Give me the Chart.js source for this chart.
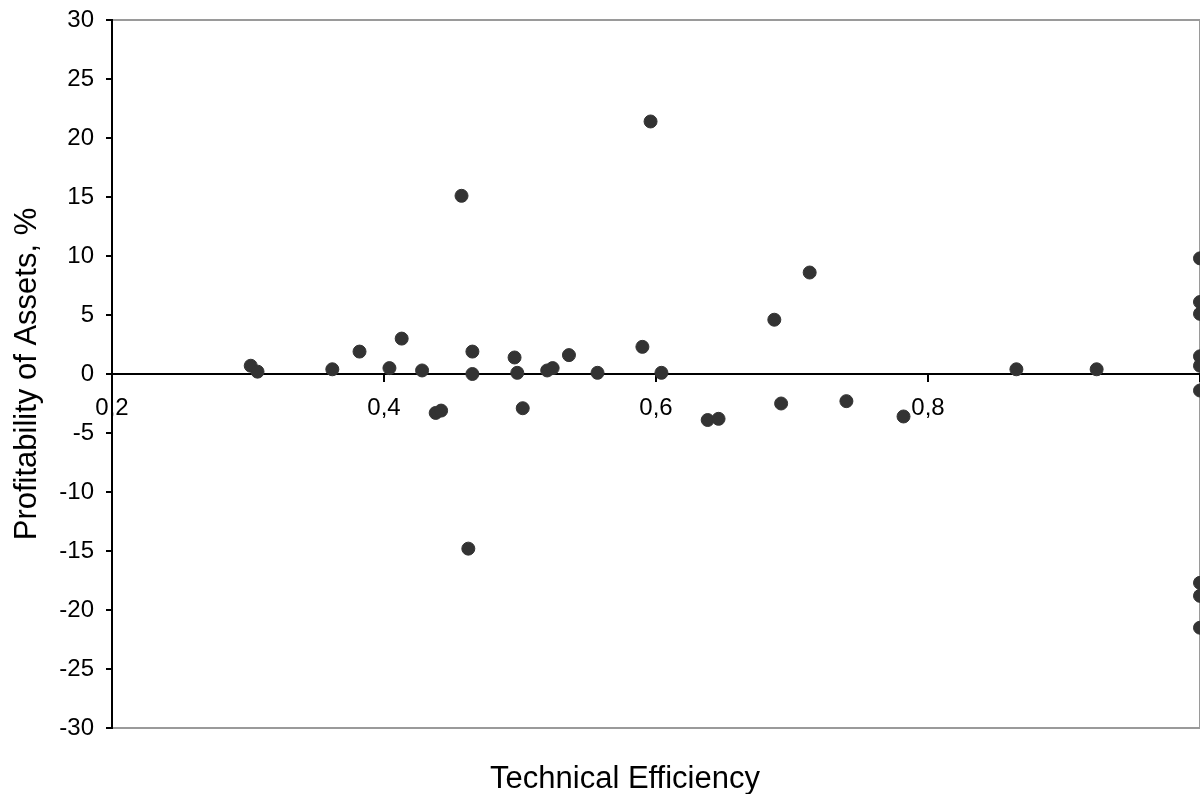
<!DOCTYPE html>
<html>
<head>
<meta charset="utf-8">
<script src="https://cdn.jsdelivr.net/npm/chart.js@4/dist/chart.umd.min.js"></script>
<style>
    html, body { margin: 0; padding: 0; background: #fff; }
</style>
</head>
<body>
<canvas id="chart" width="1200" height="794"></canvas>
<script>
        // technical efficiency (x) and profitability of assets in % (y)
        const efficiency = [0.302, 0.307, 0.362, 0.382, 0.404, 0.413, 0.428, 0.438, 0.442, 0.457,
            0.462, 0.465, 0.465, 0.496, 0.498, 0.502, 0.520, 0.524, 0.536, 0.557,
            0.590, 0.596, 0.604, 0.638, 0.646, 0.687, 0.692, 0.713, 0.740, 0.782,
            0.865, 0.924, 1, 1, 1, 1, 1, 1, 1, 1, 1];
        const profitability = [0.7, 0.2, 0.4, 1.9, 0.5, 3.0, 0.3, -3.3, -3.1, 15.1,
            -14.8, 1.9, 0.0, 1.4, 0.1, -2.9, 0.3, 0.5, 1.6, 0.1,
            2.3, 21.4, 0.1, -3.9, -3.8, 4.6, -2.5, 8.6, -2.3, -3.6,
            0.4, 0.4, 9.8, 6.1, 5.1, 1.5, 0.7, -1.4, -17.7, -18.8, -21.5];

        const xMin = 0.2, xMax = 1.0, xStep = 0.2;
        const yMin = -30, yMax = 30, yStep = 5;
        const xTitle = 'Technical Efficiency';
        const yTitle = 'Profitability of Assets, %';

        const tickFont = { family: "'Liberation Sans Narrow', 'Liberation Sans', Arial, sans-serif", size: 24 };
        const titleFamily = "'Liberation Sans', Arial, sans-serif";

        // grey frame round the plot area, drawn before the black axes
        const framePlugin = {
            id: 'frame',
            beforeDraw(chart) {
                const { ctx, chartArea: a } = chart;
                ctx.save();
                ctx.strokeStyle = '#9a9a9a';
                ctx.lineWidth = 2;
                ctx.strokeRect(a.left, a.top, a.right - a.left, a.bottom - a.top);
                ctx.restore();
            }
        };

        // x axis title sits under the plot, not under the zero line
        const xTitlePlugin = {
            id: 'xTitle',
            afterDraw(chart) {
                const ctx = chart.ctx;
                ctx.save();
                ctx.fillStyle = '#000';
                ctx.font = '31px ' + titleFamily;
                ctx.textAlign = 'center';
                ctx.textBaseline = 'alphabetic';
                ctx.fillText(xTitle, 625, 788);
                ctx.restore();
            }
        };

        const points = efficiency.map((x, i) => ({ x: x, y: profitability[i] }));

        const ctx = document.getElementById('chart').getContext('2d');
        new Chart(ctx, {
            type: 'scatter',
            data: {
                datasets: [{
                    data: points,
                    backgroundColor: '#333333',
                    borderColor: '#333333',
                    pointRadius: 6.5,
                    pointHoverRadius: 6.5
                }]
            },
            options: {
                responsive: false,
                animation: false,
                devicePixelRatio: 1,
                layout: { autoPadding: false, padding: { top: 20, right: 0, bottom: 66, left: 0 } },
                plugins: {
                    legend: { display: false },
                    tooltip: { enabled: false }
                },
                scales: {
                    x: {
                        type: 'linear',
                        min: xMin,
                        max: xMax,
                        position: { y: 0 },
                        afterFit: scale => {
                            scale.height = 0;
                            scale.paddingLeft = 0;
                            scale.paddingRight = 0;
                        },
                        border: { display: true, color: '#000', width: 2 },
                        grid: { drawOnChartArea: false, drawTicks: true, tickLength: 7, color: '#000', lineWidth: 2 },
                        ticks: {
                            stepSize: xStep,
                            autoSkip: false,
                            maxRotation: 0,
                            padding: 13,
                            color: '#000',
                            font: tickFont,
                            callback: v => (Math.abs(v - xMax) < 1e-9 ? '' : v.toFixed(1).replace('.', ','))
                        }
                    },
                    y: {
                        type: 'linear',
                        min: yMin,
                        max: yMax,
                        position: 'left',
                        afterFit: scale => {
                            scale.width = 112;
                            scale.paddingTop = 0;
                            scale.paddingBottom = 0;
                        },
                        border: { display: true, color: '#000', width: 2 },
                        grid: { drawOnChartArea: false, drawTicks: true, tickLength: 6, color: '#000', lineWidth: 2 },
                        ticks: {
                            stepSize: yStep,
                            padding: 12,
                            color: '#000',
                            font: tickFont,
                            callback: v => String(v)
                        },
                        title: {
                            display: true,
                            text: yTitle,
                            color: '#000',
                            font: { family: titleFamily, size: 31, lineHeight: 1 },
                            padding: { top: 12, bottom: 0 }
                        }
                    }
                }
            },
            plugins: [framePlugin, xTitlePlugin]
        });
</script>
</body>
</html>
